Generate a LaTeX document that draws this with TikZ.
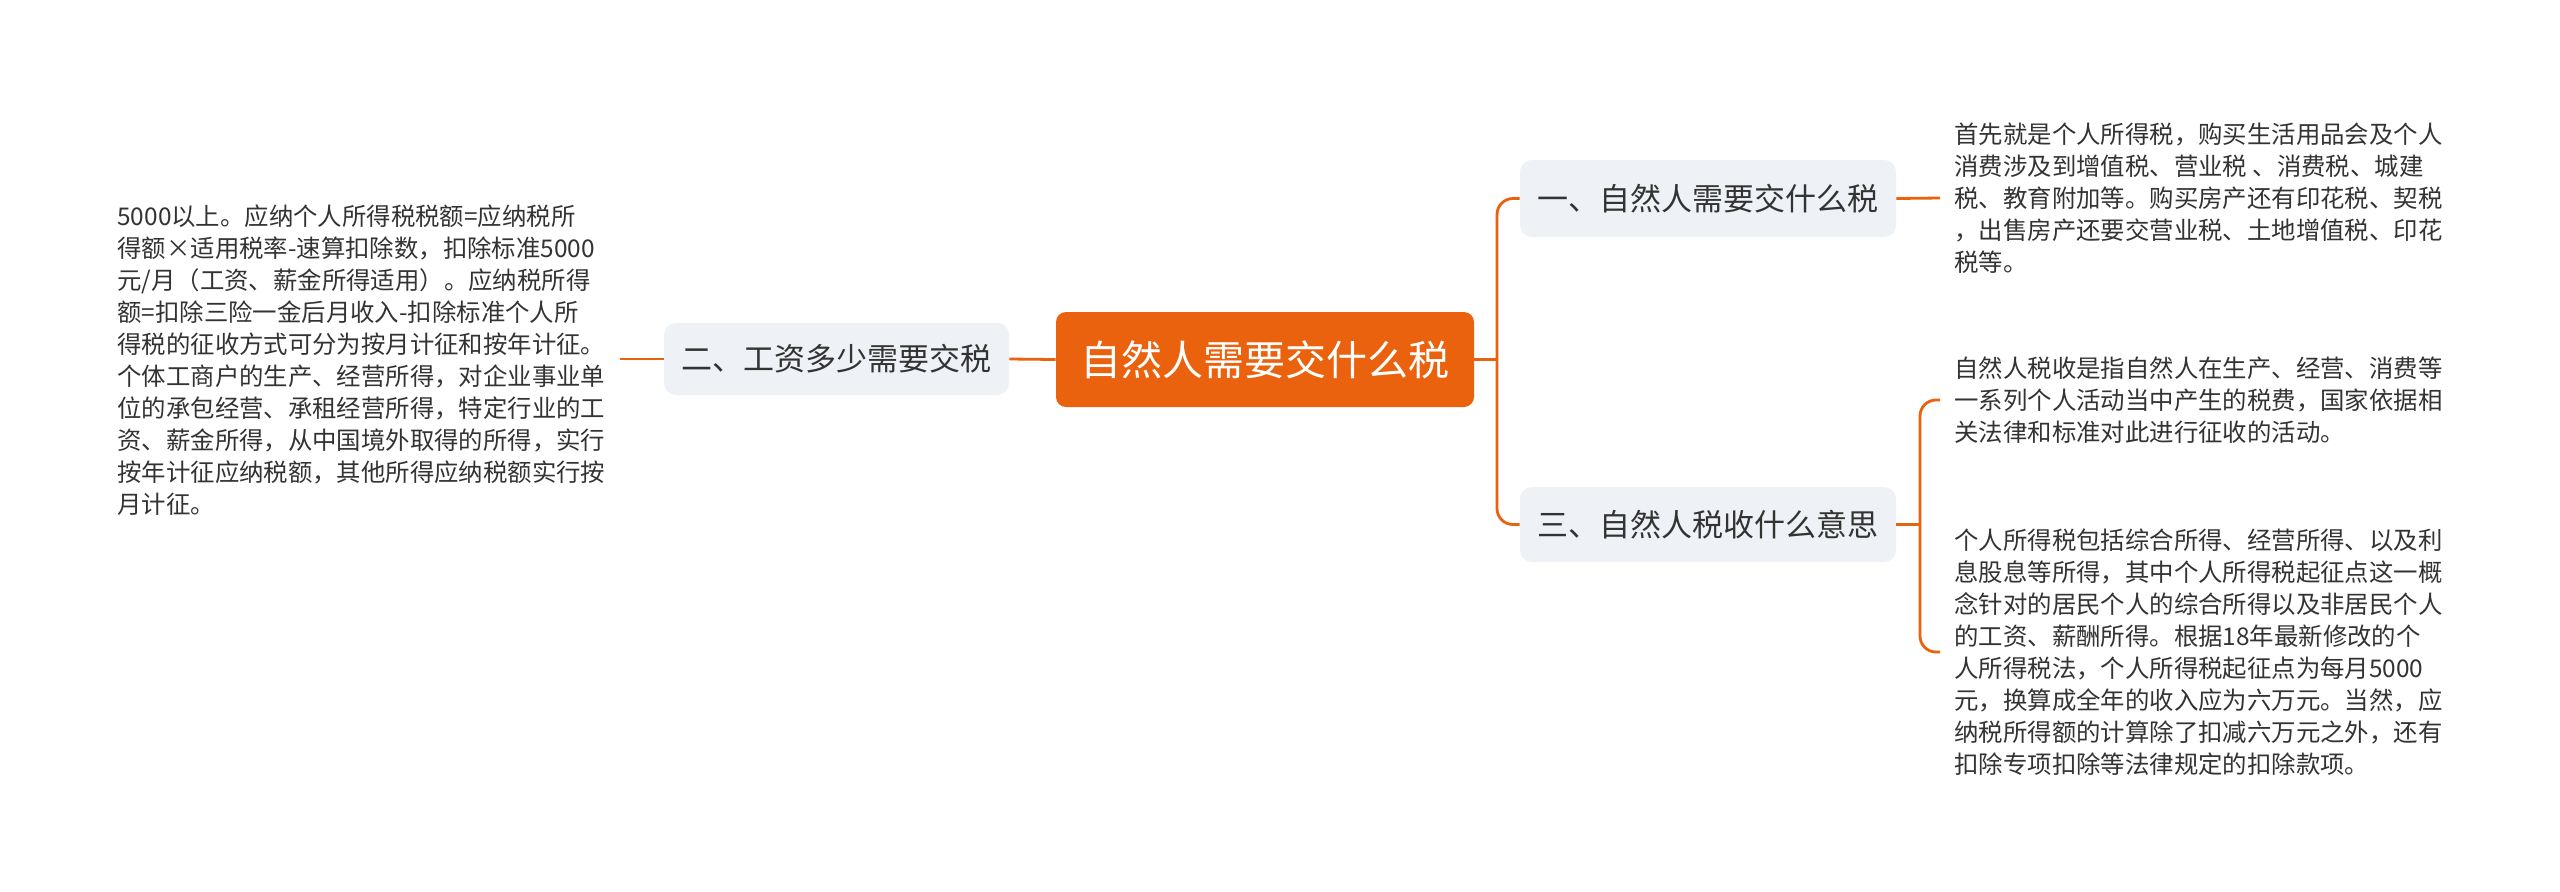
\documentclass[tikz,border=0pt]{standalone}
\usepackage{fontspec}
\setmainfont{Noto Sans CJK SC}
\newfontfamily\cjk{Noto Sans CJK SC}
\definecolor{orng}{RGB}{234,98,14}
\definecolor{nodefill}{RGB}{238,241,245}
\definecolor{txt}{RGB}{51,51,51}
\tikzset{
  rootbox/.style={fill=orng, rounded corners=5pt, text=white, inner sep=0pt,
    minimum width=209pt, minimum height=47.5pt, font=\cjk\fontsize{20.5pt}{24pt}\selectfont},
  topicbox/.style={fill=nodefill, rounded corners=6pt, text=txt, inner sep=0pt,
    font=\cjk\fontsize{15.5pt}{19pt}\selectfont},
  detail/.style={text=txt, align=left, inner xsep=7pt, inner ysep=0pt,
    font=\cjk\fontsize{12.2pt}{16pt}\selectfont},
  conn/.style={draw=orng, line width=1.4pt},
}
\begin{document}
\begin{tikzpicture}[x=0.5pt, y=-0.5pt]
\useasboundingbox (0,0) rectangle (2560,891);
\fill[white] (0,0) rectangle (2560,891);

\node[rootbox] (root) at (1265,359.5) {自然人需要交什么税};
\node[topicbox, minimum width=172.5pt, minimum height=36pt] (n2) at (836.5,359) {二、工资多少需要交税};
\node[topicbox, minimum width=188pt, minimum height=38.5pt] (n1) at (1708,198.5) {一、自然人需要交什么税};
\node[topicbox, minimum width=188pt, minimum height=37.5pt] (n3) at (1708,524.5) {三、自然人税收什么意思};

\node[detail, anchor=west] (t0) at (103,360) {5000以上。应纳个人所得税税额=应纳税所\\得额×适用税率-速算扣除数，扣除标准5000\\元/月（工资、薪金所得适用）。应纳税所得\\额=扣除三险一金后月收入-扣除标准个人所\\得税的征收方式可分为按月计征和按年计征。\\个体工商户的生产、经营所得，对企业事业单\\位的承包经营、承租经营所得，特定行业的工\\资、薪金所得，从中国境外取得的所得，实行\\按年计征应纳税额，其他所得应纳税额实行按\\月计征。};

\node[detail, anchor=west] (t1) at (1940,198) {首先就是个人所得税，购买生活用品会及个人\\消费涉及到增值税、营业税 、消费税、城建\\税、教育附加等。购买房产还有印花税、契税\\，出售房产还要交营业税、土地增值税、印花\\税等。};

\node[detail, anchor=west] (t2) at (1940,400) {自然人税收是指自然人在生产、经营、消费等\\一系列个人活动当中产生的税费，国家依据相\\关法律和标准对此进行征收的活动。};

\node[detail, anchor=west] (t3) at (1940,652) {个人所得税包括综合所得、经营所得、以及利\\息股息等所得，其中个人所得税起征点这一概\\念针对的居民个人的综合所得以及非居民个人\\的工资、薪酬所得。根据18年最新修改的个\\人所得税法，个人所得税起征点为每月5000\\元，换算成全年的收入应为六万元。当然，应\\纳税所得额的计算除了扣减六万元之外，还有\\扣除专项扣除等法律规定的扣除款项。};

\coordinate (bus) at (1497,359);
\coordinate (bus2) at (1920,528);

\draw[conn] (root.west) -- (n2.east);
\draw[conn] (n2.west) -- (t0.east |- n2.west);
\draw[conn] (root.east) -- (bus |- root.east);
\draw[conn, rounded corners=8pt] (n1.west) -- (bus |- n1.west) -- (bus |- n3.west) -- (n3.west);
\draw[conn] (n1.east) -- (t1.west);
\draw[conn] (n3.east) -- (bus2 |- n3.east);
\draw[conn, rounded corners=8pt] (t2.west) -- (bus2 |- t2.west) -- (bus2 |- t3.west) -- (t3.west);
\end{tikzpicture}
\end{document}
